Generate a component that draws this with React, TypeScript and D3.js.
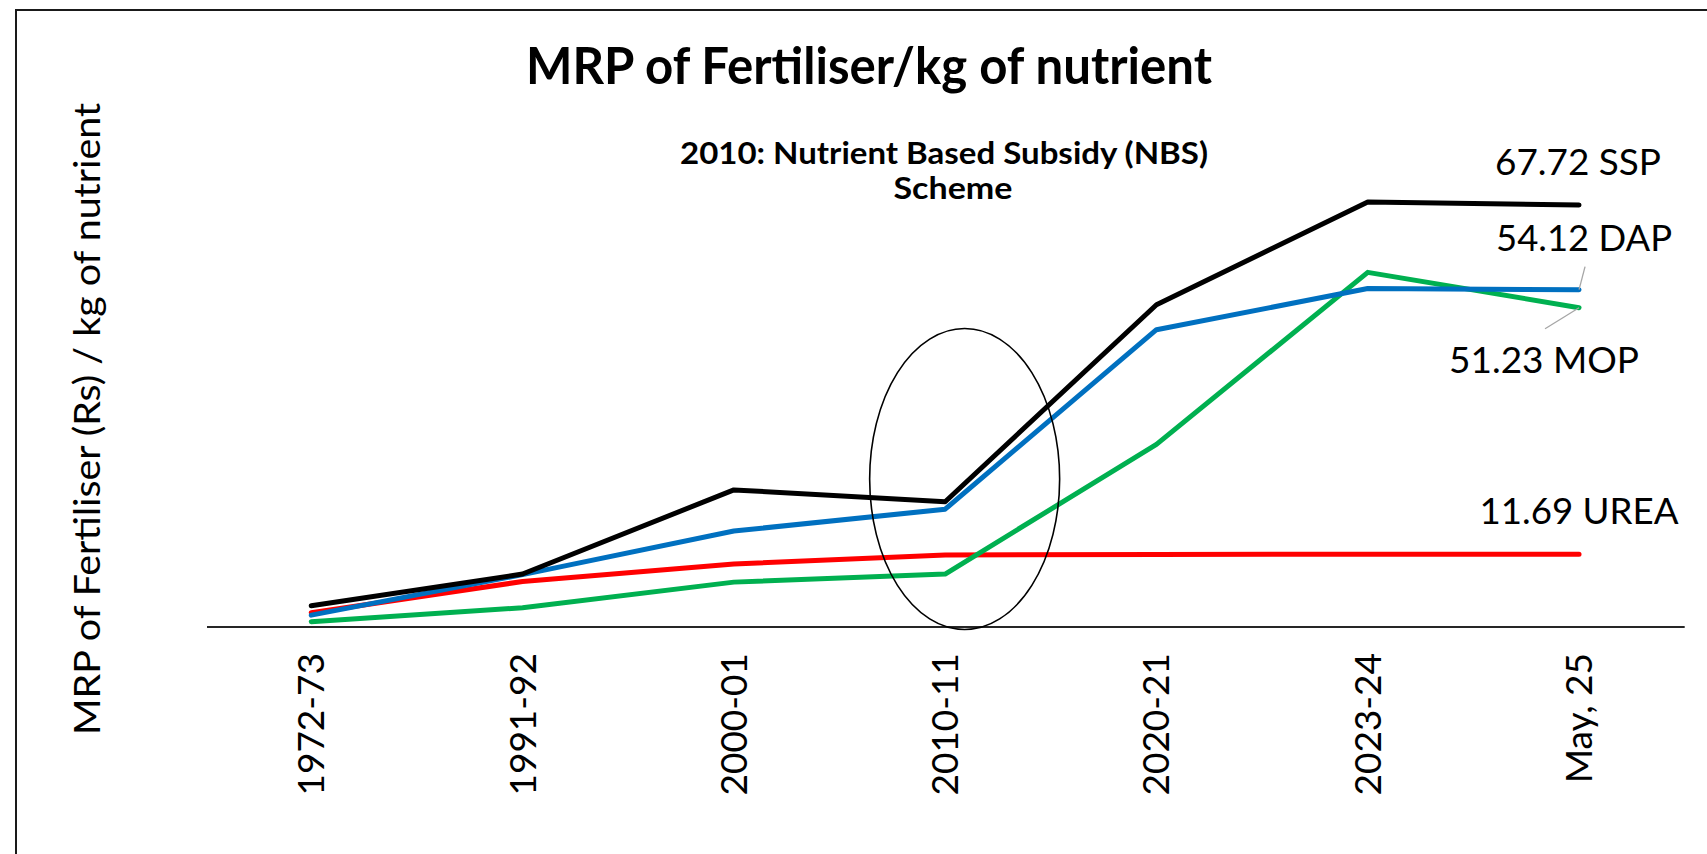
import React from "react";
import * as d3 from "d3";

const categories = ["1972-73", "1991-92", "2000-01", "2010-11", "2020-21", "2023-24", "May, 25"];
const sspValues = [3.4, 8.5, 22.0, 20.1, 51.7, 68.2, 67.72];
const dapValues = [1.9, 8.4, 15.4, 18.9, 47.7, 54.3, 54.12];
const ureaValues = [2.3, 7.3, 10.1, 11.55, 11.65, 11.69, 11.69];
const mopValues = [0.85, 3.1, 7.2, 8.5, 29.3, 56.9, 51.23];
const seriesNames = ["SSP", "DAP", "MOP", "UREA"];
const seriesColors = ["#000000", "#0070C0", "#00B050", "#FF0000"];
const endLabelTexts = ["67.72 SSP", "54.12 DAP", "51.23 MOP", "11.69 UREA"];
const yDomain = [0, 80];

const W = 1707;
const H = 854;
const FONT = "Lato, 'Open Sans', sans-serif";

export default function App() {
  const x = d3.scaleBand<string>().domain(categories).range([205.6, 1684.7]).paddingInner(0).paddingOuter(0);
  const cx = (c: string) => (x(c) as number) + x.bandwidth() / 2;
  const y = d3.scaleLinear().domain(yDomain).range([627, 128.4]);
  const line = d3
    .line<number>()
    .x((_, i) => cx(categories[i]))
    .y((d) => y(d));

  const series = [sspValues, dapValues, mopValues, ureaValues];
  const drawOrder = [3, 2, 1, 0];

  const lastCat = categories[categories.length - 1];
  const lx = cx(lastCat);
  const last = (i: number) => series[i][series[i].length - 1];

  const labelLayout = [
    { dx: -1, dy: -30, len: 166 },
    { dx: 5, dy: -39, len: 176 },
    { dx: -35, dy: 65, len: 190 },
    { dx: 0, dy: -30, len: 199 },
  ];

  const ellCx = cx("2010-11") + 19.5;
  const ellCy = y(0) - 148;

  return (
    <svg
      width={W}
      height={H}
      style={{ position: "fixed", left: 0, top: 0, background: "#fff" }}
      fontFamily={FONT}
    >
      <rect x={0} y={0} width={W} height={H} fill="#fff" />
      <rect x={16} y={10} width={W + 20} height={H + 20} fill="none" stroke="#1a1a1a" strokeWidth={2} />

      <text x={869} y={84} textAnchor="middle" fontSize={51} fontWeight={700} textLength={686} lengthAdjust="spacingAndGlyphs">
        MRP of Fertiliser/kg of nutrient
      </text>

      <text x={944} y={164} textAnchor="middle" fontSize={31} fontWeight={700} textLength={528} lengthAdjust="spacingAndGlyphs">
        2010: Nutrient Based Subsidy (NBS)
      </text>
      <text x={953} y={199} textAnchor="middle" fontSize={31} fontWeight={700} textLength={119} lengthAdjust="spacingAndGlyphs">
        Scheme
      </text>

      <text
        transform={`translate(87,419) rotate(-90)`}
        textAnchor="middle"
        dy="0.35em"
        fontSize={37}
        textLength={632}
        lengthAdjust="spacingAndGlyphs"
      >
        MRP of Fertiliser (Rs) / kg of nutrient
      </text>

      <line x1={207} x2={1684.7} y1={y(0)} y2={y(0)} stroke="#262626" strokeWidth={2} />
      {categories.map((c) => (
        <text key={c} transform={`translate(${cx(c)},653) rotate(-90)`} textAnchor="end" dy="0.35em" fontSize={37}>
          {c}
        </text>
      ))}

      {drawOrder.map((i) => (
        <path
          key={seriesNames[i]}
          d={line(series[i]) as string}
          fill="none"
          stroke={seriesColors[i]}
          strokeWidth={5}
          strokeLinecap="round"
          strokeLinejoin="round"
        />
      ))}

      <ellipse cx={ellCx} cy={ellCy} rx={95} ry={150.5} fill="none" stroke="#000" strokeWidth={1.6} />

      <line x1={lx + 6} y1={y(last(1)) - 23} x2={lx} y2={y(last(1))} stroke="#A6A6A6" strokeWidth={1.3} />
      <line x1={lx} y1={y(last(2))} x2={lx - 34} y2={y(last(2)) + 21} stroke="#A6A6A6" strokeWidth={1.3} />

      {endLabelTexts.map((t, i) => (
        <text
          key={t}
          x={lx + labelLayout[i].dx}
          y={y(last(i)) + labelLayout[i].dy}
          textAnchor="middle"
          fontSize={36}
          textLength={labelLayout[i].len}
          lengthAdjust="spacingAndGlyphs"
        >
          {t}
        </text>
      ))}
    </svg>
  );
}
